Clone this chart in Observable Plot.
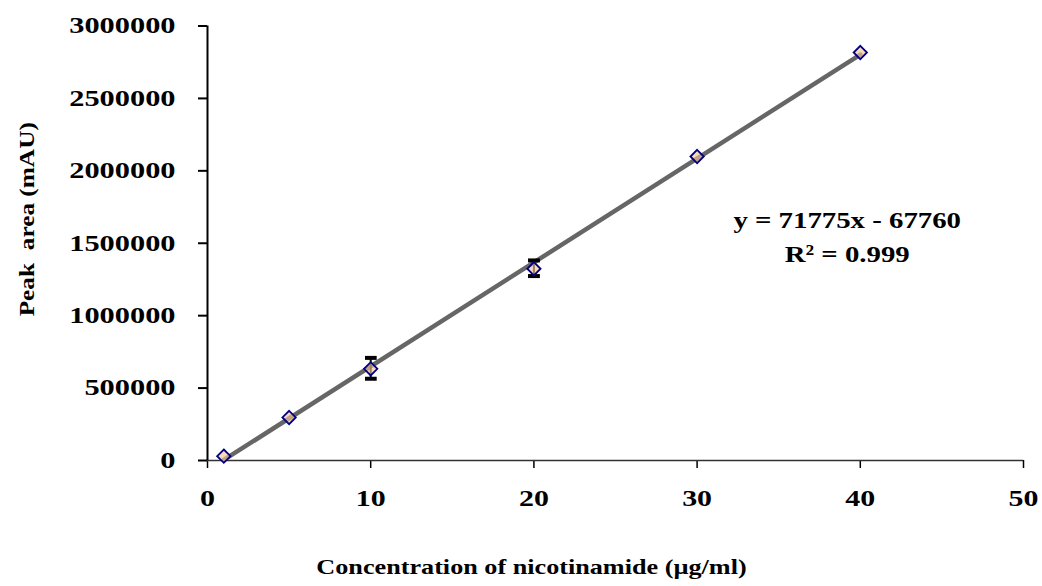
<!DOCTYPE html>
<html><head><meta charset="utf-8">
<script src="https://cdn.jsdelivr.net/npm/d3@7"></script>
<script src="https://cdn.jsdelivr.net/npm/@observablehq/plot@0.6"></script>
<style>body{margin:0;background:#fff}</style>
</head><body><div id="chart"></div>
<script>
const conc = [1, 5, 10, 20, 30, 40];
const area = [30000, 297000, 633000, 1324000, 2099000, 2817000];
const err  = [0, 0, 72000, 54000, 0, 0];
const xTicks = [0, 10, 20, 30, 40, 50];
const yTicks = [0, 500000, 1000000, 1500000, 2000000, 2500000, 3000000];
const xLabel = "Concentration of nicotinamide (µg/ml)";
const yLabel = "Peak\u00a0 area (mAU)";
const eqLine1 = "y = 71775x - 67760";
const eqLine2 = "R² = 0.999";

const data = conc.map((x, i) => ({x, y: area[i], e: err[i]}));
const bars = data.filter(d => d.e > 0);
const font = "'Liberation Serif', 'Times New Roman', serif";

const chart = Plot.plot({
  width: 1042, height: 586,
  marginLeft: 207, marginRight: 19, marginTop: 25.5, marginBottom: 126,
  style: {fontFamily: font, fontSize: "23px", fontWeight: "bold", background: "white", color: "black"},
  x: {domain: [0, 50], label: null},
  y: {domain: [0, 3000000], label: null},
  marks: [
    Plot.axisX({ticks: xTicks, tickSize: 8, tickPadding: 21, tickFormat: d => String(d), label: null, stroke: "black", strokeWidth: 1.5}),
    Plot.axisY({ticks: yTicks, tickSize: 9, tickPadding: 23, tickFormat: d => String(d), label: null, stroke: "black", strokeWidth: 2}),
    Plot.ruleY([0], {stroke: "#333", strokeWidth: 1.5}),
    Plot.ruleX([0], {stroke: "black", strokeWidth: 2}),
    Plot.linearRegressionY(data, {x: "x", y: "y", ci: 0, stroke: "#666", strokeWidth: 4.5}),
    Plot.ruleX(bars, {x: "x", y1: d => d.y - d.e, y2: d => d.y + d.e, stroke: "black", strokeWidth: 2, marker: "tick"}),
    Plot.dot(data, {x: "x", y: "y", symbol: "diamond2", r: 6, fill: "#f6c597", fillOpacity: 0.65, stroke: "#000080", strokeWidth: 1.8}),
    Plot.text([eqLine1], {frameAnchor: "top-left", textAnchor: "middle", lineAnchor: "middle", dx: 639.7, dy: 194.5, fontSize: 24, fontWeight: "bold", fill: "black"}),
    Plot.text([eqLine2], {frameAnchor: "top-left", textAnchor: "middle", lineAnchor: "middle", dx: 639.7, dy: 228, fontSize: 24, fontWeight: "bold", fill: "black"}),
    Plot.text([xLabel], {frameAnchor: "bottom", textAnchor: "middle", lineAnchor: "middle", dx: -84, dy: 106, fontSize: 22, fontWeight: "bold", fill: "black"}),
    Plot.text([yLabel], {frameAnchor: "left", textAnchor: "middle", lineAnchor: "middle", rotate: -90, dx: -181, dy: -24, fontSize: 22, fontWeight: "bold", fill: "black"})
  ]
});
document.getElementById("chart").appendChild(chart);

// widen glyphs horizontally to match the reference's stretched lettering
const stretchEl = (t, k) => {
  const len = t.getComputedTextLength();
  t.setAttribute("textLength", (len * k).toFixed(1));
  t.setAttribute("lengthAdjust", "spacingAndGlyphs");
};
chart.querySelectorAll('g[aria-label="y-axis tick label"] text').forEach(t => stretchEl(t, 1.32));
chart.querySelectorAll('g[aria-label="x-axis tick label"] text').forEach(t => stretchEl(t, 1.3));
const textGroups = chart.querySelectorAll('g[aria-label="text"]');
const factors = [1.2, 1.2, 1.19, 1.15];
textGroups.forEach((g, i) => g.querySelectorAll("text").forEach(t => stretchEl(t, factors[i] ?? 1)));
</script>
</body></html>
